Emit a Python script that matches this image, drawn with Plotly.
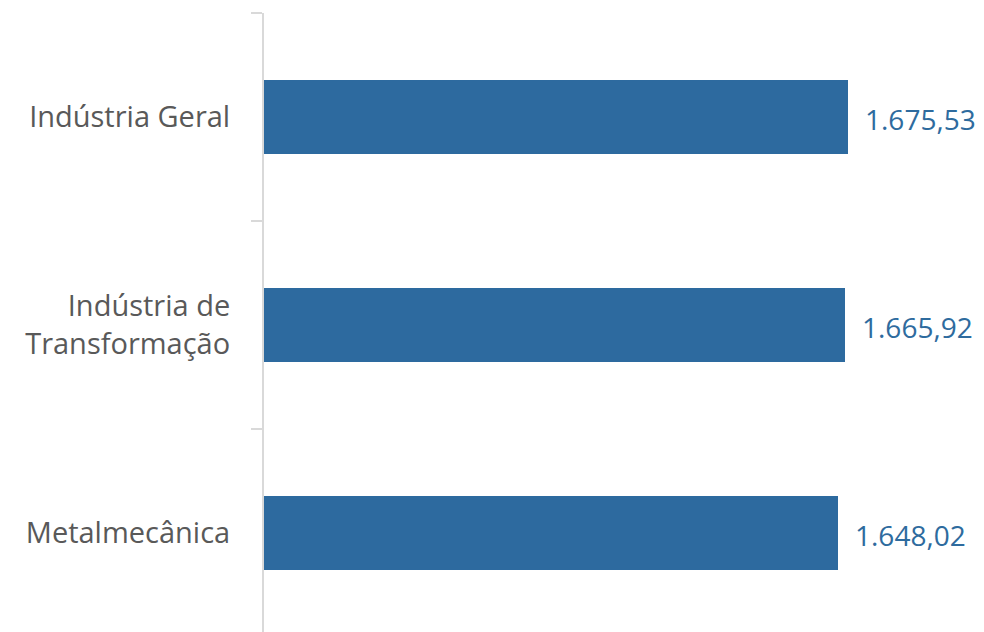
import plotly.graph_objects as go

categories = ["Metalmecânica", "Indústria de<br>Transformação", "Indústria Geral"]
values = [1648.02, 1665.92, 1675.53]
value_labels = ["1.648,02", "1.665,92", "1.675,53"]

bar_color = "#2D6A9F"
label_color = "#2E6B9E"
font_family = "Open Sans"

fig = go.Figure()
fig.add_trace(go.Bar(
    y=categories, x=values, orientation="h",
    marker=dict(color=bar_color, line=dict(width=0)),
    width=0.356, hoverinfo="skip",
))

for c, v, t in zip(categories, values, value_labels):
    fig.add_annotation(x=v, y=c, text=t, showarrow=False, xanchor="left",
                       xshift=15, yshift=-2,
                       font=dict(family=font_family, size=28, color=label_color))

fig.update_layout(
    width=976, height=624,
    margin=dict(l=256, r=23, t=5, b=0),
    paper_bgcolor="white", plot_bgcolor="white",
    showlegend=False,
    bargap=0,
    xaxis=dict(range=[0, 2000], visible=False, fixedrange=True),
    yaxis=dict(
        range=[-0.476, 2.5],
        tickson="boundaries", ticks="outside", ticklen=11, tickwidth=2, tickcolor="#D9D9D9",
        showline=True, linecolor="#D9D9D9", linewidth=2,
        showgrid=False, zeroline=False,
        tickfont=dict(family=font_family, size=29, color="#595959"),
        ticklabelstandoff=26,
    ),
)

fig.write_html("out.html")
